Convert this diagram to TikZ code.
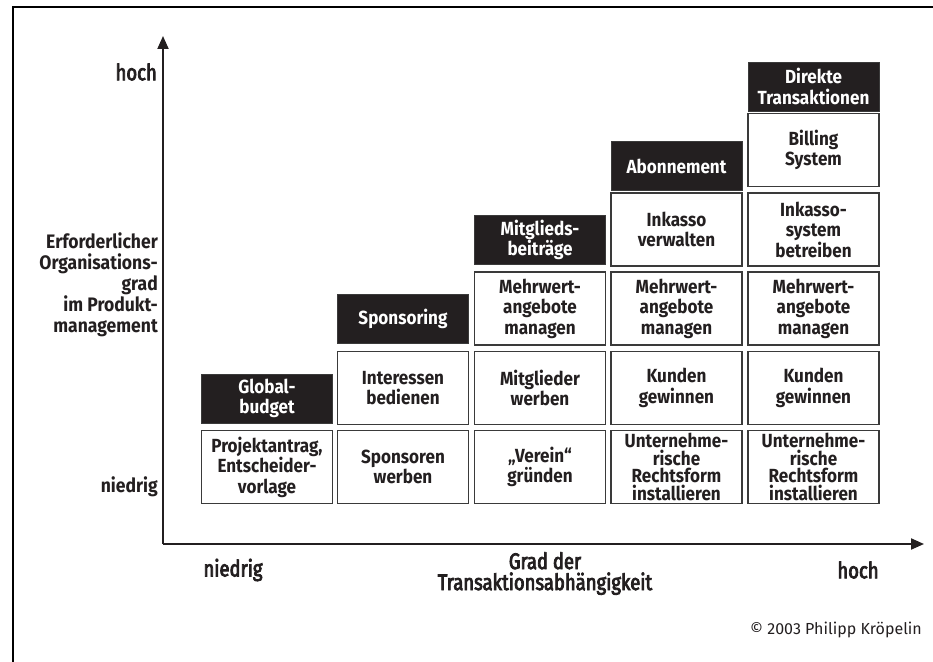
\documentclass[tikz,border=0pt]{standalone}
\usepackage{fontspec}
\setmainfont{Fira Sans}
\newfontfamily\condfont{Fira Sans}[FakeStretch=0.82,FakeBold=3.5]
\newfontfamily\cellfont{Fira Sans}[FakeStretch=0.9]
\usetikzlibrary{arrows.meta}
\definecolor{ink}{HTML}{231F20}
\definecolor{edge}{HTML}{3A3A3A}
\tikzset{
  x=1pt,y=-1pt,
  cell/.style={draw=edge,line width=1.4pt,fill=white,text=ink,minimum width=131pt,minimum height=73pt,inner sep=0pt,align=center,font=\cellfont\bfseries\fontsize{19}{20.5}\selectfont},
  tight/.style={font=\cellfont\bfseries\fontsize{19}{17.4}\selectfont},
  head/.style={draw=edge,line width=0.8pt,fill=ink,text=white,minimum width=131pt,minimum height=49pt,inner sep=0pt,align=center,font=\cellfont\bfseries\fontsize{19}{20.5}\selectfont},
  axlab/.style={text=ink,font=\condfont\fontsize{22.5}{21}\selectfont,inner sep=0pt},
  ylab/.style={text=ink,font=\cellfont\bfseries\fontsize{19.5}{21}\selectfont,inner sep=0pt,align=right},
  axis/.style={draw=ink,line width=2pt,-{Triangle[length=13pt,width=11pt]}}
}
\begin{document}
\begin{tikzpicture}
\useasboundingbox (0,0) rectangle (933,661);
\fill[white] (0,0) rectangle (933,661);
% frame
\draw[black,line width=2.6pt] (13,670) -- (13,7) -- (940,7);
% axes
\coordinate (o) at (163,544);
\coordinate (ytip) at (163,36);
\coordinate (xtip) at (924,544);
\draw[axis] (o) -- (ytip);
\draw[axis] (o) -- (xtip);
% column 1
\node[head] (h1) at (267,398.5) {Global-\\budget};
\node[cell] (c11) at (267,467) {Projektantrag,\\Entscheider-\\vorlage};
% column 2
\node[head] (h2) at (403,318.5) {Sponsoring};
\node[cell] (c21) at (403,467) {Sponsoren\\werben};
\node[cell] (c22) at (403,388) {Interessen\\bedienen};
% column 3
\node[head] (h3) at (540,240) {Mitglieds-\\beiträge};
\node[cell] (c31) at (540,467) {„Verein“\\gründen};
\node[cell] (c32) at (540,388) {Mitglieder\\werben};
\node[cell] (c33) at (540,308.5) {Mehrwert-\\angebote\\managen};
% column 4
\node[head] (h4) at (676.5,166) {Abonnement};
\node[cell,tight] (c41) at (676.5,467) {Unternehme-\\rische\\Rechtsform\\installieren};
\node[cell] (c42) at (676.5,388) {Kunden\\gewinnen};
\node[cell] (c43) at (676.5,308.5) {Mehrwert-\\angebote\\managen};
\node[cell] (c44) at (676.5,229.5) {Inkasso\\verwalten};
% column 5
\node[head] (h5) at (813.5,86.5) {Direkte\\Transaktionen};
\node[cell,tight] (c51) at (813.5,467) {Unternehme-\\rische\\Rechtsform\\installieren};
\node[cell] (c52) at (813.5,388) {Kunden\\gewinnen};
\node[cell] (c53) at (813.5,308.5) {Mehrwert-\\angebote\\managen};
\node[cell] (c54) at (813.5,229.5) {Inkasso-\\system\\betreiben};
\node[cell] (c55) at (813.5,150) {Billing\\System};
% axis labels
\node[axlab,anchor=east] (yhigh) at (157,72) {hoch};
\node[ylab,anchor=north east] (ytitle) at (158,232) {Erforderlicher\\Organisations-\\grad\\im Produkt-\\management};
\node[ylab,anchor=east] (ylow) at (158,487) {niedrig};
\node[axlab] (xlow) at (233,570) {niedrig};
\node[axlab,align=center] (xtitle) at (545,573.5) {Grad der\\Transaktionsabhängigkeit};
\node[axlab] (xhigh) at (858,570) {hoch};
\node[text=ink,font=\fontsize{16}{18}\selectfont,anchor=east,inner sep=0pt] (copy) at (922,630) {© 2003 Philipp Kröpelin};
\end{tikzpicture}
\end{document}
